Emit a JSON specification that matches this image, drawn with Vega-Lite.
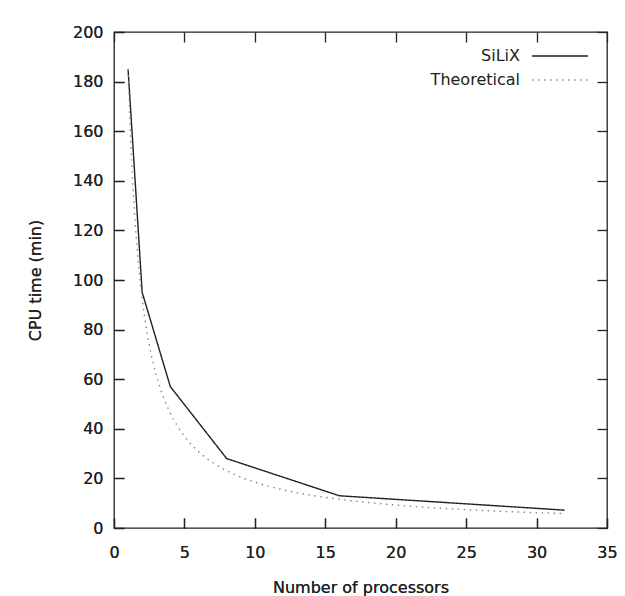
{
  "$schema": "https://vega.github.io/schema/vega-lite/v6.json",
  "autosize": {"type": "none"},
  "width": 493,
  "height": 496,
  "padding": {"left": 114, "top": 32, "right": 18, "bottom": 68},
  "background": "white",
  "config": {
    "font": "DejaVu Sans",
    "view": {"stroke": "#222", "strokeWidth": 1.3},
    "axis": {
      "labelFont": "DejaVu Sans",
      "titleFont": "DejaVu Sans",
      "labelFontSize": 16,
      "titleFontSize": 16,
      "titleFontWeight": "normal",
      "labelColor": "#222",
      "titleColor": "#222",
      "domain": false,
      "grid": false,
      "tickColor": "#222",
      "tickWidth": 1.3,
      "tickSize": -10
    },
    "legend": {
      "title": null, "orient": "top-right", "offset": 16, "symbolType": "M-4,0H4", "symbolSize": 196, "symbolStrokeWidth": 1.4,
      "labelFontSize": 16, "labelFont": "DejaVu Sans", "labelColor": "#222", "labelAlign": "right", "labelOffset": -48, "rowPadding": 8
    }
  },
  "data": {
    "values": [
      {"n": 1, "t": 185, "series": "SiLiX"},
      {"n": 2, "t": 95, "series": "SiLiX"},
      {"n": 4, "t": 57, "series": "SiLiX"},
      {"n": 8, "t": 28, "series": "SiLiX"},
      {"n": 16, "t": 13, "series": "SiLiX"},
      {"n": 32, "t": 7.2, "series": "SiLiX"},
      {"n": 1, "t": 185, "series": "Theoretical"},
      {"n": 1.25, "t": 148, "series": "Theoretical"},
      {"n": 1.5, "t": 123.3, "series": "Theoretical"},
      {"n": 1.75, "t": 105.7, "series": "Theoretical"},
      {"n": 2, "t": 92.5, "series": "Theoretical"},
      {"n": 2.5, "t": 74, "series": "Theoretical"},
      {"n": 3, "t": 61.7, "series": "Theoretical"},
      {"n": 3.5, "t": 52.9, "series": "Theoretical"},
      {"n": 4, "t": 46.3, "series": "Theoretical"},
      {"n": 5, "t": 37, "series": "Theoretical"},
      {"n": 6, "t": 30.8, "series": "Theoretical"},
      {"n": 7, "t": 26.4, "series": "Theoretical"},
      {"n": 8, "t": 23.1, "series": "Theoretical"},
      {"n": 10, "t": 18.5, "series": "Theoretical"},
      {"n": 12, "t": 15.4, "series": "Theoretical"},
      {"n": 14, "t": 13.2, "series": "Theoretical"},
      {"n": 16, "t": 11.6, "series": "Theoretical"},
      {"n": 20, "t": 9.25, "series": "Theoretical"},
      {"n": 24, "t": 7.7, "series": "Theoretical"},
      {"n": 28, "t": 6.6, "series": "Theoretical"},
      {"n": 32, "t": 5.8, "series": "Theoretical"}
    ]
  },
  "encoding": {
    "x": {"field": "n", "type": "quantitative", "scale": {"domain": [0, 35], "nice": false},
          "axis": {"orient": "bottom", "title": "Number of processors", "values": [0,5,10,15,20,25,30,35], "labelPadding": 26, "titlePadding": 19, "labelFlush": false}},
    "y": {"field": "t", "type": "quantitative", "scale": {"domain": [0, 200], "nice": false},
          "axis": {"orient": "left", "title": "CPU time (min)", "values": [0,20,40,60,80,100,120,140,160,180,200], "labelPadding": 21, "titlePadding": 29, "labelFlush": false}},
    "color": {"field": "series", "type": "nominal",
              "scale": {"domain": ["SiLiX", "Theoretical"], "range": ["#222222", "#888888"]}},
    "strokeDash": {"field": "series", "type": "nominal",
                   "scale": {"domain": ["SiLiX", "Theoretical"], "range": [[1, 0], [1.5, 4.5]]}}
  },
  "layer": [
    {
      "transform": [{"filter": "datum.series === 'SiLiX'"}],
      "mark": {"type": "line", "strokeWidth": 1.4}
    },
    {
      "transform": [{"filter": "datum.series === 'Theoretical'"}],
      "mark": {"type": "line", "strokeWidth": 1.4, "interpolate": "monotone"}
    },
    {
      "mark": {"type": "point", "opacity": 0},
      "encoding": {
        "x": {"field": "n", "type": "quantitative", "scale": {"domain": [0, 35], "nice": false},
              "axis": {"orient": "top", "title": null, "labels": false, "values": [0,5,10,15,20,25,30,35]}},
        "y": {"field": "t", "type": "quantitative", "scale": {"domain": [0, 200], "nice": false},
              "axis": {"orient": "right", "title": null, "labels": false, "values": [0,20,40,60,80,100,120,140,160,180,200]}},
        "color": {"value": "transparent"},
        "strokeDash": {"value": [1, 0]}
      }
    }
  ],
  "resolve": {"axis": {"x": "independent", "y": "independent"}}
}
